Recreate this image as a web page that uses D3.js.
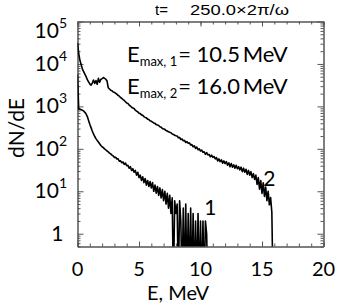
<!DOCTYPE html>
<html>
<head>
<meta charset="utf-8">
<script src="https://d3js.org/d3.v7.min.js"></script>
<style>
	body { margin: 0; background: #fff; }
	text { font-family: Lato, "Open Sans", sans-serif; fill: #000; }
</style>
</head>
<body>
<div id="my_dataviz"></div>
<script>

// energy bin width of the spectra (MeV), bin i sits at E = i * binWidth
const binWidth = 0.1;

// dN/dE, one value per bin, 0 = empty bin
const curve1 = [
	5620, 871, 851, 832, 813, 776, 724, 661, 575, 468,
	380, 316, 263, 224, 195, 174, 158, 145, 132, 120,
	112, 107, 100, 95, 89, 85, 79, 76, 71, 68,
	63, 63, 58, 58, 51, 52, 47, 49, 43, 46,
	40, 41, 35, 38, 31, 34, 28, 31, 24, 28,
	21, 24, 18, 22, 16, 20, 14, 18, 13, 17,
	12, 16, 10, 14, 9, 13, 8, 12, 7, 11,
	6, 10, 5, 9, 4, 8, 3, 7, 0, 6,
	3, 5, 0, 6, 2, 0, 4, 0, 5, 0,
	3, 0, 4, 0, 3, 0, 2, 0, 3, 0,
	2, 0, 2, 0, 2, 1, 0
];

const curve2 = [
	31600, 17800, 12000, 9550, 7590, 6610, 5750, 5010, 4270, 3800,
	3390, 3160, 3550, 4170, 3470, 4070, 3310, 4570, 3720, 4370,
	4470, 4790, 4570, 4370, 3980, 2750, 2570, 2400, 2340, 2190,
	2140, 2040, 1950, 1820, 1740, 1620, 1550, 1450, 1380, 1290,
	1200, 1170, 1070, 1020, 955, 912, 891, 813, 776, 741,
	692, 676, 631, 617, 575, 550, 537, 501, 490, 457,
	447, 427, 407, 398, 372, 363, 355, 331, 324, 302,
	295, 288, 269, 263, 251, 245, 240, 224, 219, 209,
	204, 200, 182, 186, 166, 170, 155, 158, 141, 148,
	135, 138, 123, 126, 112, 117, 102, 110, 95, 100,
	89, 93, 83, 85, 74, 81, 72, 74, 65, 71,
	63, 66, 58, 62, 52, 58, 50, 55, 46, 52,
	45, 50, 41, 47, 38, 45, 37, 42, 35, 41,
	34, 38, 32, 37, 29, 35, 28, 33, 25, 31,
	24, 29, 21, 26, 19, 24, 14.5, 21, 11.2, 17.8,
	8.9, 15.8, 7.6, 12.6, 6.0, 10, 4.8, 7.1, 3.2, 0
];

const xTicks = [0, 5, 10, 15, 20];
const yTicks = [1, 10, 100, 1000, 10000, 100000];
const eMaxValues = ["10.5", "16.0"];
const curveNames = ["1", "2"];
const timeLabel = "250.0\u00D72\u03C0/\u03C9";


function drawChart()
{
	var margin = {top: 21.5, right: 20.5, bottom: 60.5, left: 77.5},
	width = 344 - margin.left - margin.right,
	height = 307 - margin.top - margin.bottom;

	var svg = d3.select("#my_dataviz")
		.append("svg")
		.attr("width", 344)
		.attr("height", 307);

	var g = svg.append("g")
		.attr("transform", "translate(" + margin.left + "," + margin.top + ")");

	const x = d3.scaleLinear().domain([0, 20]).range([0, width]);
	const y = d3.scaleLog().domain([0.5, 1e5]).range([height, 0]);

	// minor tick positions
	const xMinor = d3.range(0, 21);
	var yMinor = [];
	for (var p = -1; p < 5; p++) {
		for (var k = 2; k < 10; k++) {
			var v = k * Math.pow(10, p);
			if (v >= 0.5 && v <= 1e5) yMinor.push(v);
		}
	}

	// axes, ticks pointing inward, four sides make the frame
	function axisStyle(sel) {
		sel.selectAll("path").attr("stroke", "#555").attr("stroke-width", 1);
		sel.selectAll("line").attr("stroke", "#555").attr("stroke-width", 1);
		sel.selectAll("text").remove();
	}
	g.append("g").attr("transform", `translate(0,${height})`)
		.call(d3.axisBottom(x).tickValues(xMinor).tickSize(-3).tickSizeOuter(0)).call(axisStyle);
	g.append("g").attr("transform", `translate(0,${height})`)
		.call(d3.axisBottom(x).tickValues(xTicks).tickSize(-5).tickSizeOuter(0)).call(axisStyle);
	g.append("g")
		.call(d3.axisTop(x).tickValues(xMinor).tickSize(-3).tickSizeOuter(0)).call(axisStyle);
	g.append("g")
		.call(d3.axisTop(x).tickValues(xTicks).tickSize(-5).tickSizeOuter(0)).call(axisStyle);
	g.append("g")
		.call(d3.axisLeft(y).tickValues(yMinor).tickSize(-3).tickSizeOuter(0)).call(axisStyle);
	g.append("g")
		.call(d3.axisLeft(y).tickValues(yTicks).tickSize(-6).tickSizeOuter(0)).call(axisStyle);
	g.append("g").attr("transform", `translate(${width},0)`)
		.call(d3.axisRight(y).tickValues(yMinor).tickSize(-3).tickSizeOuter(0)).call(axisStyle);
	g.append("g").attr("transform", `translate(${width},0)`)
		.call(d3.axisRight(y).tickValues(yTicks).tickSize(-6).tickSizeOuter(0)).call(axisStyle);

	// x tick labels
	g.append("g").selectAll("text")
		.data(xTicks)
		.join("text")
		.attr("x", d => x(d))
		.attr("y", height + 29.5)
		.attr("text-anchor", "middle")
		.style("font-size", "20px")
		.text(d => d);

	// y tick labels, 10^n
	var yl = g.append("g").selectAll("text")
		.data(yTicks)
		.join("text")
		.attr("x", -14)
		.attr("y", d => Math.max(y(d), 9) + 7)
		.attr("text-anchor", "end")
		.style("font-size", "21px");
	yl.append("tspan").text(d => d === 1 ? "1" : "10");
	yl.filter(d => d !== 1).append("tspan")
		.attr("dy", -10)
		.style("font-size", "14px")
		.text(d => Math.round(Math.log10(d)));
	// keep the superscript next to "10"
	yl.filter(d => d !== 1).attr("text-anchor", "start").attr("x", -43);

	// axis titles
	svg.append("text")
		.attr("transform", "translate(24,128) rotate(-90)")
		.attr("text-anchor", "middle")
		.style("font-size", "21px")
		.text("dN/dE");
	svg.append("text")
		.attr("x", 147)
		.attr("y", 300)
		.style("font-size", "20px")
		.text("E, MeV");

	// time label on top
	svg.append("text")
		.attr("x", 155).attr("y", 15)
		.style("font-family", "'Liberation Sans', Arial, sans-serif")
		.style("font-size", "15px")
		.text("t=");
	svg.append("text")
		.attr("x", 190).attr("y", 15)
		.attr("textLength", 99)
		.attr("lengthAdjust", "spacingAndGlyphs")
		.style("font-family", "'Liberation Sans', Arial, sans-serif")
		.style("font-size", "15px")
		.text(timeLabel);

	// spectra
	g.append("clipPath").attr("id", "plotclip")
		.append("rect").attr("width", width).attr("height", height);

	const line = d3.line()
		.x((d, i) => x(i * binWidth))
		.y(d => y(Math.max(d, 0.05)));

	g.append("g").attr("clip-path", "url(#plotclip)")
		.selectAll("path")
		.data([curve1, curve2])
		.join("path")
		.attr("fill", "none")
		.attr("stroke", "#000")
		.attr("stroke-width", 1.6)
		.attr("stroke-linejoin", "round")
		.attr("d", line);

	// E max annotations
	var ann = svg.append("g").selectAll("text")
		.data(eMaxValues)
		.join("text")
		.attr("x", 127)
		.attr("y", (d, i) => 62 + i * 32)
		.style("font-size", "22px");
	ann.append("tspan").text("E");
	ann.append("tspan").attr("dy", 4).style("font-size", "13px")
		.text((d, i) => "max, " + curveNames[i]);
	ann.append("tspan").attr("dy", -4).attr("dx", 1)
		.text(d => "= " + d + "\u2009MeV");

	// curve numbers
	const namePos = [{e: 10.8, v: 2.7}, {e: 15.6, v: 13.5}];
	svg.append("g").selectAll("text")
		.data(curveNames)
		.join("text")
		.attr("x", (d, i) => margin.left + x(namePos[i].e))
		.attr("y", (d, i) => margin.top + y(namePos[i].v))
		.attr("text-anchor", "middle")
		.style("font-size", "21px")
		.text(d => d);
}

drawChart();

</script>
</body>
</html>
